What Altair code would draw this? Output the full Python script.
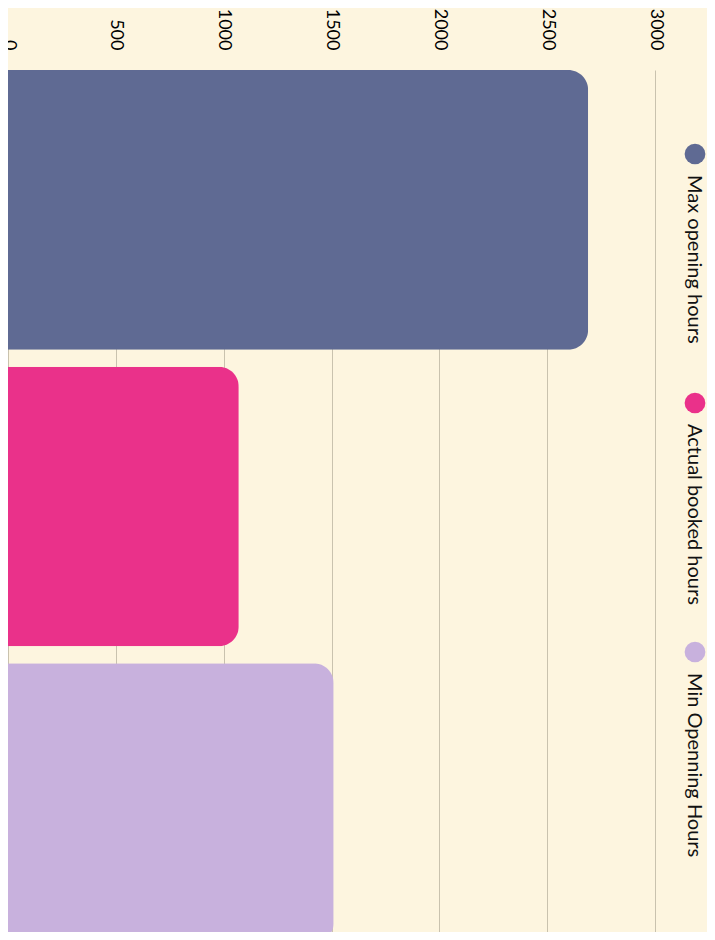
import altair as alt
import pandas as pd

series = ["Max opening hours", "Actual booked hours", "Min Openning Hours"]
hours = [2690, 1070, 1510]
colors = ["#5F6A93", "#EA318A", "#C8B1DD"]
tick_values = [0, 500, 1000, 1500, 2000, 2500, 3000]

df = pd.DataFrame({"series": series, "hours": hours})

FONT = "Lato"
BG = "#FDF5DF"
GRID = "#C9C2AE"

color_scale = alt.Scale(domain=series, range=colors)

bars = alt.Chart(df).mark_bar(cornerRadiusEnd=20).encode(
    x=alt.X(
        "hours:Q",
        scale=alt.Scale(domain=[0, 3000], range=[0, 647], nice=False),
        axis=alt.Axis(
            orient="top", values=tick_values, format="d", labelAngle=90, labelAlign="right",
            labelBaseline="middle", ticks=False, tickSize=0, domain=False,
            labelPadding=20, grid=True, gridColor=GRID, gridWidth=1, title=None,
            labelFont=FONT, labelFontSize=18, labelColor="#000000",
        ),
    ),
    y=alt.Y(
        "series:N", sort=series,
        scale=alt.Scale(domain=series, range=[0, 873], paddingInner=0.057, paddingOuter=0),
        axis=None,
    ),
    color=alt.Color("series:N", scale=color_scale, legend=None),
)

legend_y = alt.Y(
    "series:N", sort=series,
    scale=alt.Scale(type="point", domain=series, range=[84, 582], padding=0),
    axis=None,
)

legend_pts = alt.Chart(df).mark_circle(size=430, opacity=1).encode(
    x=alt.value(687),
    y=legend_y,
    color=alt.Color("series:N", scale=color_scale, legend=None),
)

legend_txt = alt.Chart(df).mark_text(
    angle=90, align="left", baseline="middle", dx=21,
    font=FONT, fontSize=20, color="#111111",
).encode(
    x=alt.value(686),
    y=legend_y,
    text="series:N",
)

chart = alt.layer(bars, legend_pts, legend_txt).resolve_scale(
    y="independent"
).properties(
    width=699,
    height=862,
    background=BG,
    padding={"top": 62, "left": 0, "right": 0, "bottom": 0},
    autosize=alt.AutoSizeParams(type="none"),
).configure_view(stroke=None)

chart.save("out.html", embed_options={"renderer": "svg", "actions": False})
